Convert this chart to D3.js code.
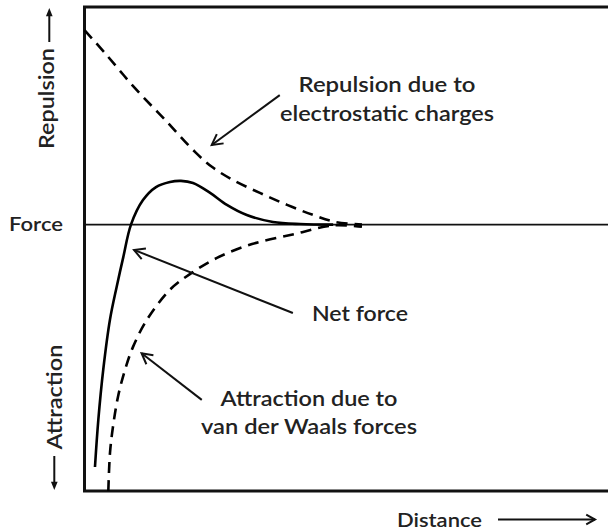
<!DOCTYPE html>
<html>
<head>
<meta charset="utf-8">
<script src="https://cdn.jsdelivr.net/npm/d3@7"></script>
<style>
  body { margin: 0; background: #fff; }
  svg { display: block; }
  text { font-family: Lato, "Open Sans", sans-serif; font-weight: 600; fill: #222; }
</style>
</head>
<body>
<script>
// distance (0-100) and force (-10..)
var repulsionX = [0, 3.9, 9.6, 15.4, 21.1, 24.4, 28.4, 33.5, 38.7, 43.7, 47.9, 53.0];
var repulsionY = [7.30, 6.44, 5.13, 3.93, 2.73, 2.16, 1.67, 1.19, 0.74, 0.36, 0.10, 0.0];

var netX = [2.0, 2.64, 3.59, 4.87, 6.15, 7.41, 8.88, 11.17, 13.66, 16.33, 18.43, 20.73, 24.0, 27.2, 31.0, 36.0, 41.2, 47.5];
var netY = [-9.10, -7.33, -5.43, -3.56, -2.33, -1.22, 0, 0.92, 1.41, 1.60, 1.64, 1.56, 1.19, 0.74, 0.36, 0.10, 0.02, 0];

var attractionX = [4.55, 4.87, 5.44, 6.40, 7.74, 9.27, 11.9, 16.3, 20.2, 25.3, 32.0, 40.2, 47.5, 53.0];
var attractionY = [-10, -8.57, -7.59, -6.46, -5.45, -4.59, -3.58, -2.45, -1.85, -1.25, -0.73, -0.35, -0.03, -0.08];

var noteLines = [["Repulsion due to", "electrostatic charges"], ["Net force"], ["Attraction due to", "van der Waals forces"]];

var W = 608, H = 532;
var svg = d3.select("body").append("svg").attr("width", W).attr("height", H);

var x = d3.scaleLinear().domain([0, 100]).range([84.5, 608]);
var y = d3.scaleLinear().domain([-10, 0]).range([491, 224.6]);

function zip(xs, ys) { return xs.map(function(d, i) { return [d, ys[i]]; }); }

var line = d3.line()
  .x(function(d) { return x(d[0]); })
  .y(function(d) { return y(d[1]); })
  .curve(d3.curveCatmullRom.alpha(0.5));

// frame (no right edge visible)
svg.append("path")
  .attr("d", "M" + (W + 10) + "," + 7 + "H" + x(0) + "V" + y(-10) + "H" + (W + 10))
  .attr("fill", "none").attr("stroke", "#111").attr("stroke-width", 3);

// zero force line
svg.append("line")
  .attr("x1", x(0)).attr("x2", W).attr("y1", y(0)).attr("y2", y(0))
  .attr("stroke", "#111").attr("stroke-width", 1.6);

var curves = [
  { data: zip(repulsionX, repulsionY), dash: "11,7" },
  { data: zip(attractionX, attractionY), dash: "11,7" },
  { data: zip(netX, netY), dash: null }
];

svg.selectAll("path.curve").data(curves)
  .enter().append("path")
  .attr("class", "curve")
  .attr("d", function(d) { return line(d.data); })
  .attr("fill", "none")
  .attr("stroke", "#000")
  .attr("stroke-width", 2.6)
  .attr("stroke-dasharray", function(d) { return d.dash; });

// open arrowhead at (x2,y2)
function arrow(g, x1, y1, x2, y2, len, sw) {
  var a = Math.atan2(y2 - y1, x2 - x1), s = 0.5;
  g.append("line").attr("x1", x1).attr("y1", y1).attr("x2", x2).attr("y2", y2)
    .attr("stroke", "#111").attr("stroke-width", sw);
  g.append("path")
    .attr("d", "M" + (x2 - len * Math.cos(a - s)) + "," + (y2 - len * Math.sin(a - s)) +
      "L" + x2 + "," + y2 +
      "L" + (x2 - len * Math.cos(a + s)) + "," + (y2 - len * Math.sin(a + s)))
    .attr("fill", "none").attr("stroke", "#111").attr("stroke-width", sw)
    .attr("stroke-linejoin", "miter");
}

// annotations: tail, tip in data units, text centre + baselines + widths in px
var notes = [
  { tail: [37.3, 4.86], tip: [24.3, 2.99], cx: 387, base: [91.6, 120.5], w: [177, 214] },
  { tail: [39.8, -3.32], tip: [9.46, -0.95], cx: 360, base: [320.5], w: [96] },
  { tail: [22.4, -6.58], tip: [10.9, -4.83], cx: 309, base: [405.5, 434], w: [177, 216] }
];

var g = svg.append("g");
notes.forEach(function(n, i) {
  arrow(g, x(n.tail[0]), y(n.tail[1]), x(n.tip[0]), y(n.tip[1]), 12, 2);
  noteLines[i].forEach(function(t, j) {
    svg.append("text")
      .attr("x", n.cx).attr("y", n.base[j])
      .attr("text-anchor", "middle")
      .attr("font-size", 21)
      .attr("textLength", n.w[j]).attr("lengthAdjust", "spacingAndGlyphs")
      .text(t);
  });
});

// axis labels
svg.append("text").attr("x", 9).attr("y", 230.7).attr("font-size", 20)
  .attr("textLength", 54).attr("lengthAdjust", "spacingAndGlyphs").text("Force");

svg.append("text").attr("x", 397).attr("y", 526.5).attr("font-size", 20)
  .attr("textLength", 85).attr("lengthAdjust", "spacingAndGlyphs").text("Distance");

svg.append("text").attr("transform", "translate(54,149) rotate(-90)").attr("font-size", 21)
  .attr("textLength", 101).attr("lengthAdjust", "spacingAndGlyphs").text("Repulsion");

svg.append("text").attr("transform", "translate(61.5,449.6) rotate(-90)").attr("font-size", 21)
  .attr("textLength", 105).attr("lengthAdjust", "spacingAndGlyphs").text("Attraction");

// direction arrows
function solidArrow(x1, y1, x2, y2) {
  var a = Math.atan2(y2 - y1, x2 - x1), len = 9, s = 0.38;
  svg.append("line").attr("x1", x1).attr("y1", y1).attr("x2", x2 - 4 * Math.cos(a)).attr("y2", y2 - 4 * Math.sin(a))
    .attr("stroke", "#111").attr("stroke-width", 2);
  svg.append("path")
    .attr("d", "M" + x2 + "," + y2 +
      "L" + (x2 - len * Math.cos(a - s)) + "," + (y2 - len * Math.sin(a - s)) +
      "L" + (x2 - len * Math.cos(a + s)) + "," + (y2 - len * Math.sin(a + s)) + "Z")
    .attr("fill", "#111");
}
solidArrow(49.3, 42, 49.3, 8);
solidArrow(54.3, 456, 54.3, 490);
arrow(svg, 498, 519.5, 595, 519.5, 10, 2);
</script>
</body>
</html>
